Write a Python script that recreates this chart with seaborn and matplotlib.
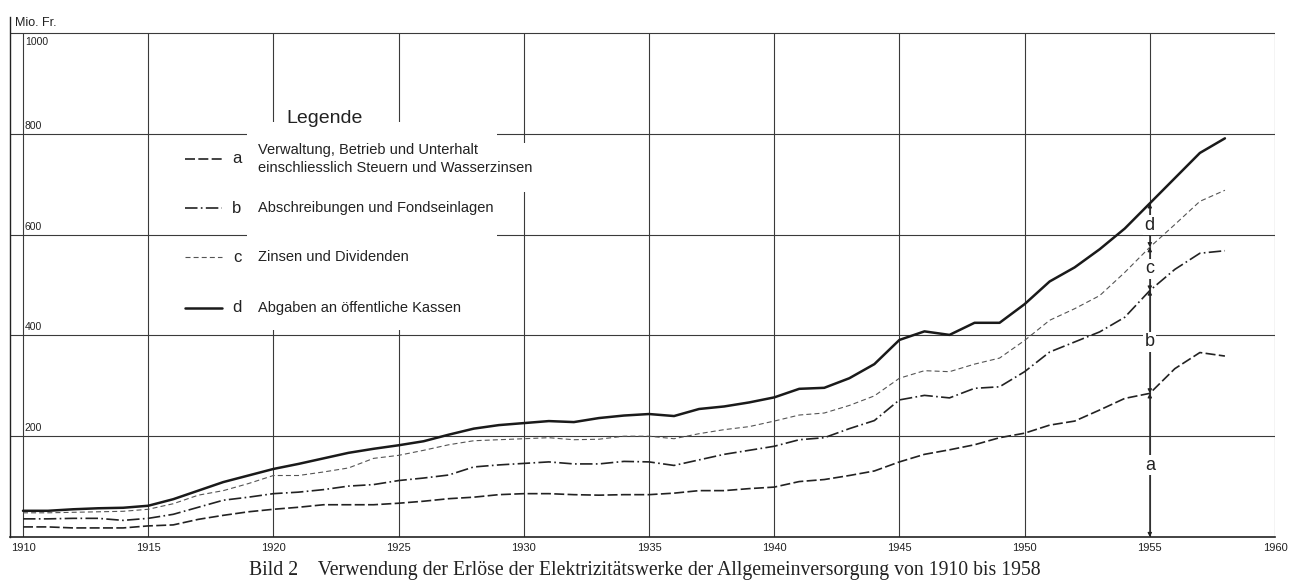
import numpy as np
import pandas as pd
import seaborn as sns
import matplotlib.pyplot as plt
from matplotlib.lines import Line2D
from matplotlib.patches import Rectangle

# Jahre und Werte (Mio. Fr.), summiert a, a+b, a+b+c, a+b+c+d
jahre = list(range(1910, 1959))
kurve_a = [20, 20, 18, 18, 18, 22, 24, 35, 43, 50, 55, 59, 64, 64, 64, 67, 71, 76, 79, 84,
           86, 86, 84, 83, 84, 84, 87, 92, 92, 96, 99, 110, 114, 122, 131, 149, 164, 173, 183, 197,
           206, 222, 230, 252, 275, 285, 334, 366, 359]
kurve_b = [36, 36, 37, 37, 33, 37, 45, 59, 73, 79, 86, 89, 94, 101, 104, 112, 117, 123, 139, 143,
           146, 149, 145, 145, 150, 149, 142, 153, 164, 172, 180, 193, 197, 215, 231, 272, 281, 276, 295, 298,
           328, 367, 387, 407, 436, 489, 531, 563, 568]
kurve_c = [48, 48, 49, 50, 51, 55, 66, 83, 92, 106, 122, 122, 129, 137, 156, 162, 172, 183, 191, 193,
           195, 197, 193, 194, 200, 200, 195, 205, 213, 219, 230, 242, 246, 261, 280, 315, 330, 328, 343, 355,
           390, 430, 453, 479, 525, 575, 620, 666, 688]
kurve_d = [52, 52, 55, 57, 58, 62, 75, 92, 109, 122, 135, 145, 156, 167, 175, 182, 190, 203, 215, 222,
           226, 230, 228, 236, 241, 244, 240, 254, 259, 267, 277, 294, 296, 315, 343, 391, 408, 401, 425, 425,
           462, 507, 535, 571, 612, 662, 712, 762, 791]

buchstaben = ['a', 'b', 'c', 'd']
legende_text = ['Verwaltung, Betrieb und Unterhalt\neinschliesslich Steuern und Wasserzinsen',
                'Abschreibungen und Fondseinlagen',
                'Zinsen und Dividenden',
                'Abgaben an öffentliche Kassen']
x_ticks = list(range(1910, 1961, 5))
y_ticks = [200, 400, 600, 800, 1000]

stile = {
    'a': dict(linestyle=(0, (6, 2)), linewidth=1.2, color='#222222'),
    'b': dict(linestyle=(0, (7.5, 2, 1, 2)), linewidth=1.2, color='#222222'),
    'c': dict(linestyle=(0, (4.5, 2.8)), linewidth=0.8, color='#555555'),
    'd': dict(linestyle='-', linewidth=1.8, color='#1a1a1a'),
}

df = pd.DataFrame({'Jahr': jahre, 'a': kurve_a, 'b': kurve_b, 'c': kurve_c, 'd': kurve_d})

sns.set_style('white')
plt.rcParams['font.family'] = ['Liberation Sans', 'DejaVu Sans']

W, H = 1291, 582
fig = plt.figure(figsize=(W / 100, H / 100), dpi=100)
x0 = 1910 - 13 / 25.04
ytop = 1000 * 520 / 504
ax = fig.add_axes([10 / W, 1 - 537 / H, 1265 / W, 520 / H])
ax.set_xlim(x0, 1960)
ax.set_ylim(0, ytop)

gridc = '#3a3a3a'
for yv in y_ticks:
    ax.hlines(yv, x0, 1960, color=gridc, lw=0.8, zorder=1)
for xv in range(1910, 1961, 5):
    ax.vlines(xv, 0, 1000, color=gridc, lw=0.8, zorder=1)

for k in buchstaben:
    sns.lineplot(data=df, x='Jahr', y=k, ax=ax, zorder=3, **stile[k])

for s in ['top', 'right']:
    ax.spines[s].set_visible(False)
ax.spines['left'].set_color('#222222')
ax.spines['bottom'].set_color('#222222')
ax.spines['left'].set_linewidth(1.0)
ax.spines['bottom'].set_linewidth(1.2)

ax.set_xticks(x_ticks)
ax.set_xticklabels([str(t) for t in x_ticks], fontsize=8, color='#222222')
ax.tick_params(axis='x', length=0, pad=4)
ax.set_yticks([])
ax.set_xlabel('')
ax.set_ylabel('')

for yv in y_ticks:
    if yv == 1000:
        ax.text(1910.1, yv - 8, str(yv), fontsize=7.5, ha='left', va='top', color='#222222')
    else:
        ax.text(1910.05, yv + 6, str(yv), fontsize=7.5, ha='left', va='bottom', color='#222222')
fig.text(15 / W, 1 - 23 / H, 'Mio. Fr.', fontsize=9, ha='left', va='center', color='#222222')

# Masslinie bei 1955
i55 = jahre.index(1955)
stufen = [0, kurve_a[i55], kurve_b[i55], kurve_c[i55], kurve_d[i55]]
for j, k in enumerate(buchstaben):
    lo, hi = stufen[j], stufen[j + 1]
    ax.annotate('', xy=(1955, lo), xytext=(1955, hi),
                arrowprops=dict(arrowstyle='<|-|>', lw=0.8, color='#222222',
                                mutation_scale=6, shrinkA=0, shrinkB=0), zorder=4)
    ax.text(1955, (lo + hi) / 2, k, fontsize=13, ha='center', va='center', color='#222222', zorder=5,
            bbox=dict(facecolor='white', edgecolor='none', pad=1.0))

# Legende
fig.add_artist(Rectangle((247 / W, 1 - 330 / H), 250 / W, 208 / H, transform=fig.transFigure,
                         facecolor='white', edgecolor='none', zorder=2))
fig.add_artist(Rectangle((497 / W, 1 - 192 / H), 45 / W, 49 / H, transform=fig.transFigure,
                         facecolor='white', edgecolor='none', zorder=2))
fig.text(325 / W, 1 - 119 / H, 'Legende', fontsize=14, ha='center', va='center', color='#222222', zorder=3)
ys = [159, 208, 257, 308]
for k, txt, yy in zip(buchstaben, legende_text, ys):
    yf = 1 - yy / H
    fig.add_artist(Line2D([185 / W, 222 / W], [yf, yf], transform=fig.transFigure, zorder=3, **stile[k]))
    fig.text(237 / W, yf, k, fontsize=12, ha='center', va='center', color='#222222', zorder=3)
    fig.text(258 / W, yf, txt, fontsize=10.5, ha='left', va='center', color='#222222', zorder=3,
             linespacing=1.3)

fig.text(645 / W, 1 - 570 / H,
         'Bild 2    Verwendung der Erlöse der Elektrizitätswerke der Allgemeinversorgung von 1910 bis 1958',
         fontsize=14.2, ha='center', va='center', family='Liberation Serif', color='#222222')

fig.savefig('out.png', dpi=100, facecolor='white')
